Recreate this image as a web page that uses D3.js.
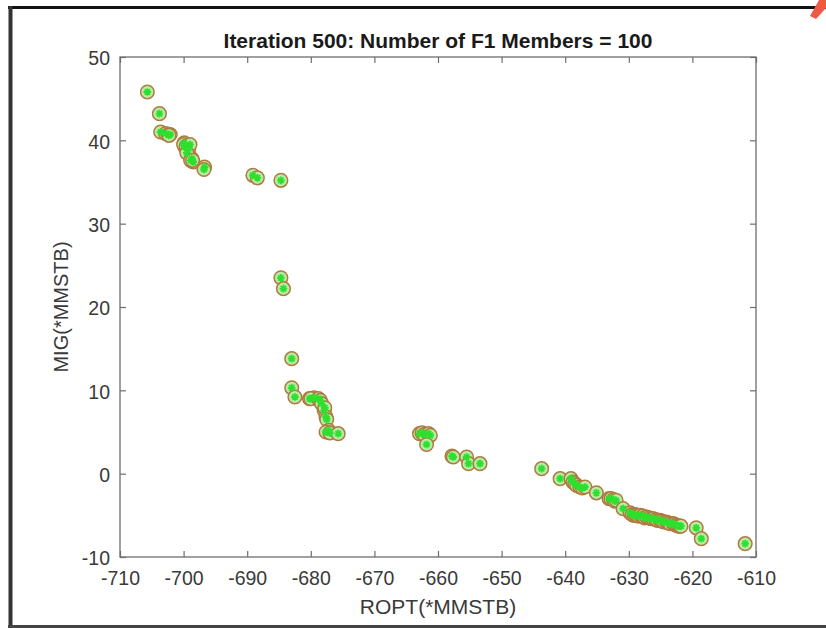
<!DOCTYPE html>
<html>
<head>
<meta charset="utf-8">
<script src="https://cdn.jsdelivr.net/npm/d3@7"></script>
<style>
  html, body { margin: 0; padding: 0; background: #ffffff; }
  svg { display: block; }
  text { font-family: "Liberation Sans", Arial, Helvetica, sans-serif; }
</style>
</head>
<body>
<script>
// Pareto front (F1 members) after 500 iterations: ROPT vs MIG, both in *MMSTB
const ropt = [
  -705.7, -703.8, -703.6, -702.8, -702.1, -702.4, -702.3,
  -699.9, -699.8, -699.2, -700.0, -699.6, -699.0, -698.7, -698.5, -699.5, -698.9, -698.6,
  -696.7, -696.8,
  -689.1, -688.4, -684.7,
  -684.7, -684.3,
  -683.0, -683.0, -682.5, -680.2, -679.5, -680.0, -678.8, -678.5, -678.3, -677.9, -677.8,
  -677.6, -677.5, -677.4, -677.2, -677.6, -677.0, -675.7,
  -662.9, -662.5, -662.2, -661.5, -661.2, -661.8,
  -657.8, -657.6, -655.5, -655.2, -653.4,
  -643.7, -640.8, -639.1, -638.8, -638.5, -638.2, -637.7, -637.3, -636.9, -635.1,
  -633.1, -632.8, -632.4, -632.2, -632.0, -630.9,
  -629.8, -629.5, -629.2, -629.0, -628.8, -628.5, -628.2, -627.8, -627.5, -627.2,
  -626.8, -626.5, -626.2, -625.8, -625.5, -625.1, -624.8, -624.5, -624.1, -623.8,
  -623.5, -623.0, -622.8, -622.5, -622.2, -622.0, -621.8,
  -619.4, -618.6, -611.7
];
const mig = [
  45.8, 43.2, 41.0, 40.8, 40.7, 40.7, 40.6,
  39.7, 39.2, 39.0, 39.5, 39.3, 39.5, 37.8, 37.4, 38.5, 37.6, 37.6,
  36.8, 36.5,
  35.8, 35.5, 35.2,
  23.5, 22.2,
  13.8, 10.3, 9.2, 9.0, 9.1, 9.0, 9.0, 8.8, 8.4, 7.6, 7.9,
  6.8, 6.5, 5.0, 5.2, 5.0, 4.9, 4.8,
  4.8, 4.9, 4.7, 4.8, 4.6, 3.5,
  2.1, 2.0, 2.0, 1.2, 1.2,
  0.6, -0.6, -0.6, -1.0, -1.2, -1.4, -1.6, -1.7, -1.6, -2.3,
  -3.0, -3.0, -3.1, -3.3, -3.2, -4.2,
  -4.7, -4.9, -5.0, -4.9, -5.0, -5.1, -5.0, -5.1, -5.3, -5.2,
  -5.3, -5.4, -5.4, -5.5, -5.6, -5.6, -5.7, -5.8, -5.8, -5.9,
  -6.0, -6.0, -6.1, -6.2, -6.3, -6.3, -6.3,
  -6.5, -7.8, -8.4
];

const xTicks = [-710, -700, -690, -680, -670, -660, -650, -640, -630, -620, -610];
const yTicks = [-10, 0, 10, 20, 30, 40, 50];

const titleText = "Iteration 500: Number of F1 Members = 100";
const xLabelText = "ROPT(*MMSTB)";
const yLabelText = "MIG(*MMSTB)";

const W = 826, H = 628;
const box = { left: 120, right: 756, top: 57, bottom: 557 };

const svg = d3.select("body").append("svg")
  .attr("width", W).attr("height", H);

// outer frame of the figure
svg.append("rect").attr("x", 0).attr("y", 0).attr("width", W).attr("height", H).attr("fill", "#ffffff");
svg.append("line").attr("x1", 8).attr("x2", W).attr("y1", 7.5).attr("y2", 7.5)
  .attr("stroke", "#111111").attr("stroke-width", 3);
svg.append("line").attr("x1", 10.5).attr("x2", 10.5).attr("y1", 6).attr("y2", 628)
  .attr("stroke", "#333333").attr("stroke-width", 4);
svg.append("line").attr("x1", 8).attr("x2", W).attr("y1", 626.5).attr("y2", 626.5)
  .attr("stroke", "#444444").attr("stroke-width", 3);
svg.append("path").attr("d", "M810,16 L819,0 L826,0 L826,8 L816,19 Z").attr("fill", "#f05a45");

const x = d3.scaleLinear().domain([-710, -610]).range([box.left, box.right]);
const y = d3.scaleLinear().domain([-10, 50]).range([box.bottom, box.top]);

const axisColor = "#6e6e6e";
const textColor = "#3a3a3a";
const tickLen = 6;
const plain = d => String(d);   // hyphen-minus, as the figure prints it

function styleAxis(g, labels) {
  g.select(".domain").remove();
  g.selectAll(".tick line").attr("stroke", axisColor).attr("stroke-width", 1.2);
  if (labels) {
    g.selectAll(".tick text")
      .attr("fill", textColor)
      .style("font-size", "19.5px")
      .style("font-family", "'Liberation Sans', Arial, sans-serif");
  } else {
    g.selectAll(".tick text").remove();
  }
}

// bottom and left axes with labels, ticks pointing inward
svg.append("g").attr("transform", `translate(0,${box.bottom})`)
  .call(d3.axisBottom(x).tickValues(xTicks).tickSize(-tickLen).tickPadding(14).tickFormat(plain))
  .call(g => styleAxis(g, true));
svg.append("g").attr("transform", `translate(${box.left},0)`)
  .call(d3.axisLeft(y).tickValues(yTicks).tickSize(-tickLen).tickPadding(10).tickFormat(plain))
  .call(g => styleAxis(g, true))
  .call(g => g.selectAll(".tick text").attr("dy", "0.4em"));
// top and right mirror ticks
svg.append("g").attr("transform", `translate(0,${box.top})`)
  .call(d3.axisTop(x).tickValues(xTicks).tickSize(-tickLen))
  .call(g => styleAxis(g, false));
svg.append("g").attr("transform", `translate(${box.right},0)`)
  .call(d3.axisRight(y).tickValues(yTicks).tickSize(-tickLen))
  .call(g => styleAxis(g, false));

// axes box
svg.append("rect")
  .attr("x", box.left).attr("y", box.top)
  .attr("width", box.right - box.left).attr("height", box.bottom - box.top)
  .attr("fill", "none").attr("stroke", axisColor).attr("stroke-width", 1.3);

// markers: circle with an asterisk inside
const pts = ropt.map((v, i) => ({ x: v, y: mig[i] }));
const r = 6.8;
const marks = svg.append("g");
marks.selectAll("circle").data(pts).join("circle")
  .attr("cx", d => x(d.x)).attr("cy", d => y(d.y)).attr("r", r)
  .attr("fill", "#b6eca8").attr("stroke", "#b07a3e").attr("stroke-width", 1.5);

const star = [0, 45, 90, 135].map(a => {
  const t = a * Math.PI / 180, s = 3.8;
  return `M${-s * Math.cos(t)},${-s * Math.sin(t)}L${s * Math.cos(t)},${s * Math.sin(t)}`;
}).join("");
marks.selectAll("path").data(pts).join("path")
  .attr("transform", d => `translate(${x(d.x)},${y(d.y)})`)
  .attr("d", star)
  .attr("fill", "none").attr("stroke", "#2ee02e").attr("stroke-width", 1.8);

// title and axis labels
svg.append("text")
  .attr("x", (box.left + box.right) / 2).attr("y", 48)
  .attr("text-anchor", "middle")
  .attr("fill", "#1a1a1a")
  .style("font-size", "21px").style("font-weight", "bold")
  .text(titleText);

svg.append("text")
  .attr("x", (box.left + box.right) / 2).attr("y", 614)
  .attr("text-anchor", "middle")
  .attr("fill", textColor)
  .style("font-size", "21px")
  .text(xLabelText);

svg.append("text")
  .attr("transform", `translate(68,${(box.top + box.bottom) / 2}) rotate(-90)`)
  .attr("text-anchor", "middle")
  .attr("fill", textColor)
  .style("font-size", "20px")
  .text(yLabelText);
</script>
</body>
</html>
